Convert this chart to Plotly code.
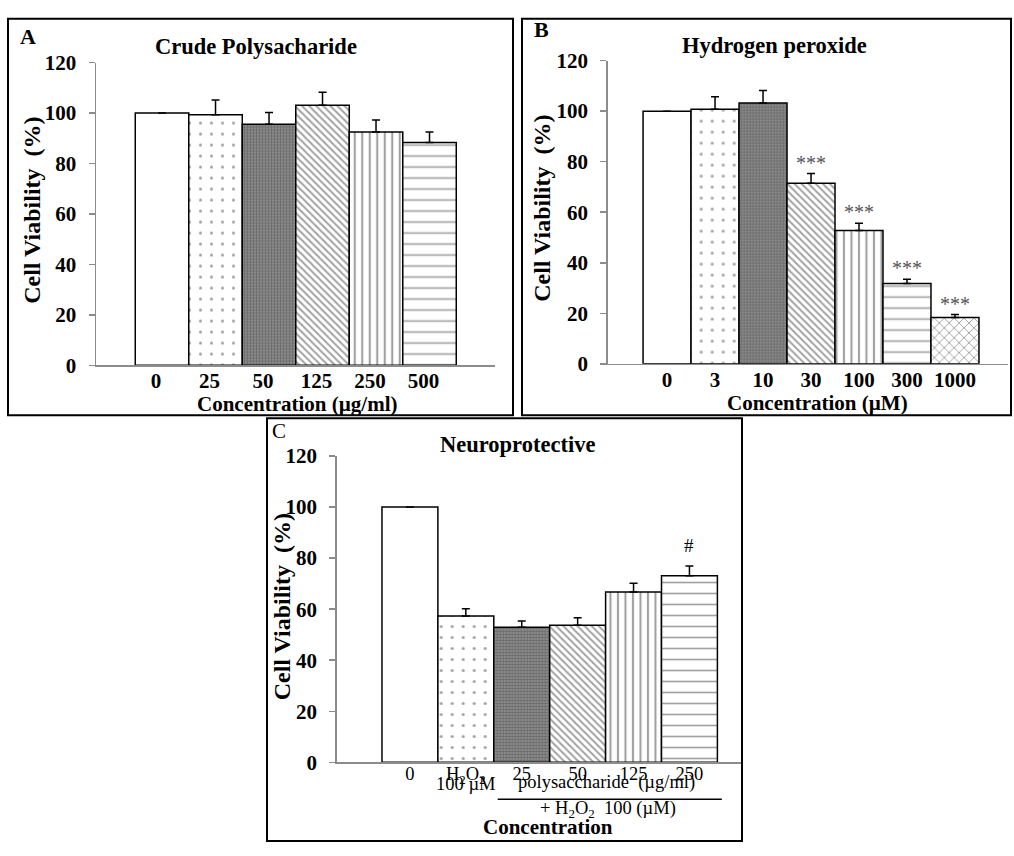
import plotly.graph_objects as go

W, H = 1014, 856
FONT = "Liberation Serif"

# ---------------- data ----------------
# Panel A: crude polysaccharide
a_labels = ["0", "25", "50", "125", "250", "500"]
a_values = [100.0, 99.3, 95.5, 103.1, 92.5, 88.3]
a_errors = [None, 5.9, 4.7, 5.1, 4.7, 4.2]

# Panel B: hydrogen peroxide
b_labels = ["0", "3", "10", "30", "100", "300", "1000"]
b_values = [100.0, 100.7, 103.2, 71.5, 52.8, 31.8, 18.3]
b_errors = [None, 5.0, 5.0, 3.8, 2.8, 1.7, 1.2]
b_marks = ["", "", "", "***", "***", "***", "***"]

# Panel C: neuroprotective
c_labels = ["0", "H<sub>2</sub>O<sub>2</sub>", "25", "50", "125", "250"]
c_values = [100.0, 57.3, 52.9, 53.7, 66.7, 73.1]
c_errors = [None, 2.9, 2.5, 2.9, 3.5, 3.8]
c_marks = ["", "", "", "", "", "#"]

y_ticks = [0, 20, 40, 60, 80, 100, 120]

# ---------------- styles ----------------
STYLES = {
    "white": dict(color="white", shape="", size=8, solidity=0.2, fg="black"),
    "dots": dict(color="white", shape=".", size=11, solidity=0.06, fg="black"),
    "mesh": dict(color="#8a8a8a", shape="+", size=3, solidity=0.4, fg="#222222"),
    "back": dict(color="white", shape="\\", size=5, solidity=0.4, fg="black"),
    "vert": dict(color="white", shape="|", size=7.5, solidity=0.28, fg="black"),
    "dash": dict(color="white", shape="-", size=11, solidity=0.15, fg="#222222"),
    "wave": dict(color="white", shape="x", size=7, solidity=0.25, fg="#111111"),
}
a_style = ["white", "dots", "mesh", "back", "vert", "dash"]
b_style = ["white", "dots", "mesh", "back", "vert", "dash", "wave"]
c_style = ["white", "dots", "mesh", "back", "vert", "dash"]


def px(x):
    return x / W


def py(y):
    return 1 - y / H


def bar_trace(values, errors, style, xa, ya):
    st = [STYLES[s] for s in style]
    return go.Bar(
        x=list(range(len(values))),
        y=values,
        width=1,
        xaxis=xa,
        yaxis=ya,
        marker=dict(
            color=[s["color"] for s in st],
            line=dict(color="black", width=1.5),
            pattern=dict(
                shape=[s["shape"] for s in st],
                size=[s["size"] for s in st],
                solidity=[s["solidity"] for s in st],
                fgcolor=[s["fg"] for s in st],
                fillmode="overlay",
            ),
        ),
        error_y=dict(
            type="data",
            symmetric=False,
            array=errors,
            arrayminus=[0 if e is not None else None for e in errors],
            color="black",
            thickness=1.5,
            width=4,
        ),
        showlegend=False,
        hoverinfo="skip",
    )


fig = go.Figure()
fig.add_trace(bar_trace(a_values, a_errors, a_style, "x", "y"))
fig.add_trace(bar_trace(b_values, b_errors, b_style, "x2", "y2"))
fig.add_trace(bar_trace(c_values, c_errors, c_style, "x3", "y3"))

axis_line = dict(showline=True, linecolor="#8c8c8c", linewidth=1.5,
                 showgrid=False, zeroline=False)
tick_bold = dict(family=FONT, size=21, color="black", weight="bold")


def yaxis(domain, anchor):
    return dict(domain=domain, anchor=anchor, range=[0, 120], tickvals=y_ticks,
                ticks="outside", ticklen=6, tickwidth=1.5, tickcolor="#8c8c8c",
                tickfont=tick_bold, ticklabelstandoff=8, **axis_line)


def xaxis(domain, anchor, rng, labels, font, shift=0, standoff=-4):
    return dict(domain=domain, anchor=anchor, range=rng,
                tickvals=list(range(len(labels))), ticktext=labels,
                ticks="", tickfont=font, ticklabelshift=shift,
                ticklabelstandoff=standoff, **axis_line)


fig.update_layout(
    width=W, height=H,
    margin=dict(l=0, r=0, t=0, b=0),
    paper_bgcolor="white", plot_bgcolor="white",
    font=dict(family=FONT, color="black"),
    bargap=0,
    xaxis=xaxis([px(96), px(495)], "y", [-1.234, 6.224], a_labels, tick_bold, -6),
    yaxis=yaxis([py(363.5), py(52)], "x"),
    xaxis2=xaxis([px(607.7), px(1008)], "y2", [-1.237, 7.105], b_labels, tick_bold),
    yaxis2=yaxis([py(362), py(50)], "x2"),
    xaxis3=xaxis([px(336.7), px(742)], "y3", [-1.31, 5.94], c_labels,
                 dict(family=FONT, size=18.5, color="black"), 0, -6),
    yaxis3=yaxis([py(772), py(456.8)], "x3"),
)

ann = []


def text(x, y, s, size, bold=True, angle=0, color="black"):
    ann.append(dict(x=px(x), y=py(y), xref="paper", yref="paper", text=s,
                    showarrow=False, textangle=angle, xanchor="center",
                    yanchor="middle",
                    font=dict(family=FONT, size=size, color=color,
                              weight="bold" if bold else "normal")))


# panel letters
text(27.5, 25.5, "A", 22)
text(541.5, 17.5, "B", 22)
text(278.5, 431, "C", 21, bold=False)
# titles
text(256, 35, "Crude Polysacharide", 22.5)
text(774, 34, "Hydrogen peroxide", 22.5)
text(517.5, 445, "Neuroprotective", 22.5)
# y titles
text(32.5, 204, "Cell Viability  (%)", 24, angle=-90)
text(542.5, 202, "Cell Viability  (%)", 24, angle=-90)
text(281.5, 612, "Cell Viability  (%)", 24, angle=-90)
# x titles
text(297, 403, "Concentration (µg/ml)", 21)
text(817.5, 402, "Concentration (µM)", 21)
text(547.5, 839, "Concentration", 21)
# C sub labels
text(606, 793, "polysaccharide  (µg/ml)", 18.5, bold=False)
text(608, 820, "+ H<sub>2</sub>O<sub>2</sub>  100 (µM)", 18.5, bold=False)

# "100 µM" under the H2O2 tick
ann.append(dict(x=1, y=0, xref="x3", yref="y3", text="100 µM", showarrow=False,
                xanchor="center", yanchor="top", yshift=-10,
                font=dict(family=FONT, size=18.5, color="black")))

# significance marks
for i, m in enumerate(b_marks):
    if m:
        ann.append(dict(x=i, y=b_values[i] + b_errors[i], xref="x2", yref="y2",
                        text=m, showarrow=False, xanchor="center",
                        yanchor="bottom", yshift=-2,
                        font=dict(family=FONT, size=20, color="#555555")))
for i, m in enumerate(c_marks):
    if m:
        ann.append(dict(x=i, y=c_values[i] + c_errors[i], xref="x3", yref="y3",
                        text=m, showarrow=False, xanchor="center",
                        yanchor="bottom", yshift=8,
                        font=dict(family=FONT, size=19, color="black")))

fig.update_layout(annotations=ann)

shapes = [
    dict(type="rect", xref="paper", yref="paper", x0=px(8), x1=px(513),
         y0=py(415), y1=py(7), line=dict(color="black", width=2)),
    dict(type="rect", xref="paper", yref="paper", x0=px(522), x1=px(1011),
         y0=py(415), y1=py(7), line=dict(color="black", width=2)),
    dict(type="rect", xref="paper", yref="paper", x0=px(267), x1=px(742),
         y0=py(853), y1=py(418), line=dict(color="black", width=2)),
    # bracket line under the polysaccharide label
    dict(type="line", xref="x3", yref="paper", x0=1.57, x1=5.58,
         y0=py(810), y1=py(810), line=dict(color="black", width=1.5)),
]
fig.update_layout(shapes=shapes)

post = ("document.body.style.margin='0';"
        "document.body.style.padding='0';"
        "document.body.style.overflow='hidden';"
        "document.documentElement.style.overflow='hidden';")
fig.write_html("out.html", post_script=post,
               config={"displayModeBar": False, "staticPlot": True})
